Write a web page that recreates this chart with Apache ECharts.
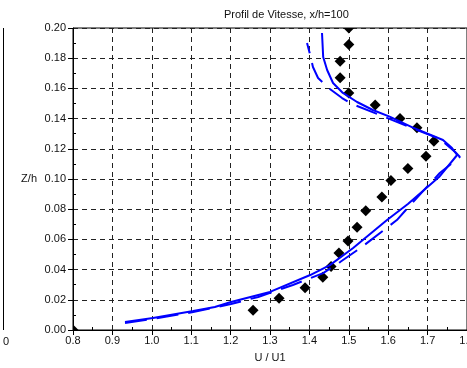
<!DOCTYPE html>
<html>
<head>
<meta charset="utf-8">
<script src="https://cdn.jsdelivr.net/npm/echarts@6/dist/echarts.min.js"></script>
<style>
    html, body { margin: 0; padding: 0; background: #fff; }
    #chart { width: 467px; height: 368px; }
</style>
</head>
<body>
<div id="chart"></div>
<script>
    // mesures (losanges noirs) : [U/U1, Z/h]
    var mesures = [
        [0.8, 0.0], [1.257, 0.013], [1.323, 0.021], [1.389, 0.028], [1.434, 0.035],
        [1.455, 0.042], [1.475, 0.051], [1.498, 0.059], [1.521, 0.068], [1.543, 0.079],
        [1.584, 0.088], [1.607, 0.099], [1.650, 0.107], [1.696, 0.115], [1.716, 0.125],
        [1.673, 0.134], [1.630, 0.140], [1.567, 0.149], [1.500, 0.157], [1.478, 0.167],
        [1.478, 0.178], [1.500, 0.189], [1.500, 0.200]
    ];
    // calcul 1 (trait plein bleu)
    var calcul1 = [
        [0.932, 0.0053], [1.003, 0.0079], [1.105, 0.0126], [1.160, 0.0152], [1.201, 0.0185],
        [1.300, 0.0252], [1.402, 0.0364], [1.452, 0.0430], [1.511, 0.0543], [1.597, 0.0728],
        [1.650, 0.0834], [1.729, 0.1013], [1.775, 0.1159], [1.762, 0.1205], [1.739, 0.1258],
        [1.660, 0.1344], [1.605, 0.1411], [1.561, 0.1457], [1.521, 0.1510], [1.485, 0.1570],
        [1.460, 0.1636], [1.445, 0.1722], [1.435, 0.1808], [1.432, 0.1967]
    ];
    // calcul 2 (tirets bleus)
    var calcul2 = [
        [0.932, 0.0046], [1.003, 0.0073], [1.105, 0.0119], [1.201, 0.0172], [1.270, 0.0219],
        [1.358, 0.0298], [1.435, 0.0377], [1.478, 0.0450], [1.533, 0.0550], [1.622, 0.0728],
        [1.663, 0.0848], [1.731, 0.1040], [1.782, 0.1146], [1.770, 0.1179], [1.731, 0.1265],
        [1.660, 0.1338], [1.579, 0.1424], [1.508, 0.1497], [1.483, 0.1536], [1.452, 0.1596],
        [1.422, 0.1669], [1.409, 0.1742], [1.402, 0.1821], [1.394, 0.1901]
    ];
    var xMin = 0.8, xMax = 1.8, xStep = 0.1;
    var yMin = 0, yMax = 0.2, yStep = 0.02;

    var police = 'Liberation Sans, Arial, sans-serif';
    var chart = echarts.init(document.getElementById('chart'));

    // losange coupé par le cadre (custom + clip)
    function dessinLosange(params, api) {
        var p = api.coord([api.value(0), api.value(1)]);
        var r = 5.5;
        return {
            type: 'polygon',
            shape: { points: [[p[0], p[1] - r], [p[0] + r, p[1]], [p[0], p[1] + r], [p[0] - r, p[1]]] },
            style: { fill: '#000' }
        };
    }

    chart.setOption({
        animation: false,
        title: {
            text: 'Profil de Vitesse, x/h=100',
            left: 219,
            top: 4,
            textStyle: { fontFamily: police, fontSize: 11, fontWeight: 'normal', color: '#111' }
        },
        grid: {
            left: 73, top: 28, right: 0, bottom: 38,
            outerBoundsMode: 'none',
            show: true, borderColor: '#000', borderWidth: 1, backgroundColor: '#fff'
        },
        xAxis: {
            type: 'value',
            min: xMin, max: xMax, interval: xStep,
            name: 'U / U1',
            nameLocation: 'middle',
            nameGap: 22,
            nameTextStyle: { fontFamily: police, fontSize: 11, color: '#111' },
            axisLine: { show: true, onZero: false, lineStyle: { color: '#000' } },
            axisTick: { show: true, length: 5, lineStyle: { color: '#000' } },
            minorTick: { show: true, splitNumber: 2, length: -3, lineStyle: { color: '#000' } },
            axisLabel: {
                fontFamily: police, fontSize: 11, color: '#111', margin: 5,
                showMaxLabel: true,
                alignMaxLabel: 'center',
                formatter: function (v) { return v.toFixed(1); }
            },
            splitLine: { show: true, lineStyle: { color: '#222', type: [5, 4], width: 1 } }
        },
        yAxis: {
            type: 'value',
            min: yMin, max: yMax, interval: yStep,
            name: 'Z/h',
            nameLocation: 'middle',
            nameRotate: 0,
            nameGap: 36,
            nameTextStyle: { fontFamily: police, fontSize: 11, color: '#111', align: 'right', verticalAlign: 'middle' },
            axisLine: { show: true, onZero: false, lineStyle: { color: '#000' } },
            axisTick: { show: true, length: 5, lineStyle: { color: '#000' } },
            minorTick: { show: true, splitNumber: 2, length: -3, lineStyle: { color: '#000' } },
            axisLabel: {
                fontFamily: police, fontSize: 11, color: '#111', margin: 7,
                formatter: function (v) { return v.toFixed(2); }
            },
            splitLine: { show: true, lineStyle: { color: '#222', type: [5, 4], width: 1 } }
        },
        graphic: [
            // restes du graphique voisin, à gauche
            { type: 'line', shape: { x1: 3.5, y1: 28, x2: 3.5, y2: 330 }, style: { stroke: '#000', lineWidth: 1 } },
            { type: 'text', left: 3, top: 336, style: { text: '0', font: '11px ' + police, fill: '#111' } }
        ],
        series: [
            {
                name: 'calcul 2',
                type: 'line',
                data: calcul2,
                symbol: 'none',
                clip: true,
                lineStyle: { color: '#0000ff', width: 2, type: [22, 10] }
            },
            {
                name: 'calcul 1',
                type: 'line',
                data: calcul1,
                symbol: 'none',
                clip: true,
                lineStyle: { color: '#0000ff', width: 2 }
            },
            {
                name: 'mesures',
                type: 'custom',
                data: mesures,
                clip: true,
                renderItem: dessinLosange,
                z: 3
            }
        ]
    });
</script>
</body>
</html>
